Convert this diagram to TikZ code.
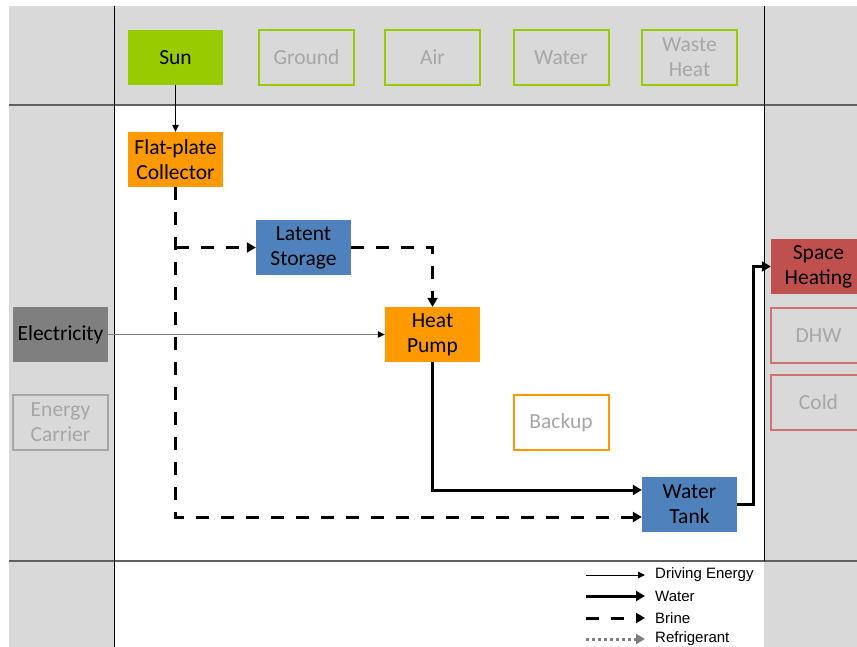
\documentclass[tikz,border=0pt]{standalone}
\usepackage{fontspec}
\setmainfont{Carlito}
\newfontfamily\legendfont{Liberation Sans}
\usetikzlibrary{arrows.meta}
\definecolor{bggray}{HTML}{D9D9D9}
\definecolor{sungreen}{HTML}{99CC00}
\definecolor{hporange}{HTML}{FF9900}
\definecolor{storeblue}{HTML}{4F81BD}
\definecolor{sinkred}{HTML}{C0504D}
\definecolor{elecgray}{HTML}{7F7F7F}
\definecolor{txtgray}{HTML}{A6A6A6}
\definecolor{rulegray}{HTML}{5F5F5F}
\begin{document}
\begin{tikzpicture}[x=1pt,y=-1pt,
    box/.style={minimum width=95pt,minimum height=55pt,inner sep=0pt,align=center,
      font=\fontsize{21.5}{25}\selectfont},
    boxon/.style={box,fill=#1,text=black},
    boxoff/.style={box,draw=#1,line width=2pt,text=txtgray},
    drive/.style={line width=0.8pt,-{Triangle[length=7pt,width=6.5pt]}},
    water/.style={line width=3pt,-{Triangle[length=9pt,width=10pt]}},
    brine/.style={line width=3pt,dash pattern=on 13pt off 12pt,-{Triangle[length=9pt,width=10pt]}},
    refri/.style={line width=3pt,dash pattern=on 3pt off 3pt,elecgray,-{Triangle[length=9pt,width=10pt]}},
    legend/.style={anchor=west,inner sep=0pt,font=\legendfont\fontsize{15}{17}\selectfont}]
  \useasboundingbox (0,0) rectangle (857,647);
  \def\top{6}
  \def\left{9}
  \def\rowline{105}
  \def\footline{561}
  \def\colline{114}
  \def\sinkline{764}

  % frame
  \fill[white] (0,0) rectangle (857,647);
  \fill[bggray] (\left,\top) rectangle (857,647);
  \fill[white] (\colline,\rowline) rectangle (\sinkline,647);
  \draw[rulegray,line width=1.5pt] (\left,\rowline) -- (857,\rowline);
  \draw[rulegray,line width=1.5pt] (\left,\footline) -- (857,\footline);
  \draw[line width=1pt] (\colline,\top) -- (\colline,647);
  \draw[line width=1pt] (\sinkline,\top) -- (\sinkline,\footline);

  % sources
  \node[boxon=sungreen] (sun) at (175.5,57.5) {Sun};
  \foreach \name/\txt/\x in {ground/Ground/306.5, air/Air/432.5, water/Water/561, waste/Waste\\Heat/689.5} {
    \node[boxoff=sungreen] (\name) at (\x,57.5) {\txt};
  }
  \node[boxon=elecgray] (elec) at (60.5,334.5) {Electricity};
  \node[boxoff=txtgray] (carrier) at (60.5,422.5) {Energy\\Carrier};

  % system
  \node[boxon=hporange] (coll) at (175.5,159.5) {Flat-plate\\Collector};
  \node[boxon=storeblue] (latent) at (303.5,247.5) {Latent\\Storage};
  \node[boxon=hporange] (hp) at (432.5,334.5) {Heat\\Pump};
  \node[boxoff=hporange] (backup) at (561,422.5) {Backup};
  \node[boxon=storeblue] (tank) at (689.5,504.5) {Water\\Tank};

  % sinks
  \node[boxon=sinkred] (heat) at (818.5,266.5) {Space\\Heating};
  \node[boxoff=sinkred!80] (dhw) at (818.5,335.5) {DHW};
  \node[boxoff=sinkred!80] (cold) at (818.5,402.5) {Cold};

  % flows
  \draw[drive] (sun.south) -- (coll.north);
  \draw[elecgray,line width=1pt,-{Triangle[length=7pt,width=6.5pt,color=black]}] (elec.east) -- (hp.west);
  \draw[brine] (coll.south) |- ([yshift=-12.5pt]tank.west);
  \draw[brine] (coll.south |- latent.west) -- (latent.west);
  \draw[brine] (latent.east) -| (hp.north);
  \draw[water] (hp.south) |- ([yshift=14.5pt]tank.west);
  \draw[water] (tank.east) -- ++(16,0) |- (heat.west);

  % legend
  \foreach \i/\style/\txt/\y in {1/drive/Driving Energy/575, 2/water/Water/596, 3/brine/Brine/618, 4/refri/Refrigerant/639} {
    \coordinate (from\i) at (586,\y);
    \coordinate (to\i) at (645,\y);
    \node[legend] (key\i) at (655,\y) {\txt};
    \draw[\style] (from\i) -- (to\i);
  }
\end{tikzpicture}
\end{document}
